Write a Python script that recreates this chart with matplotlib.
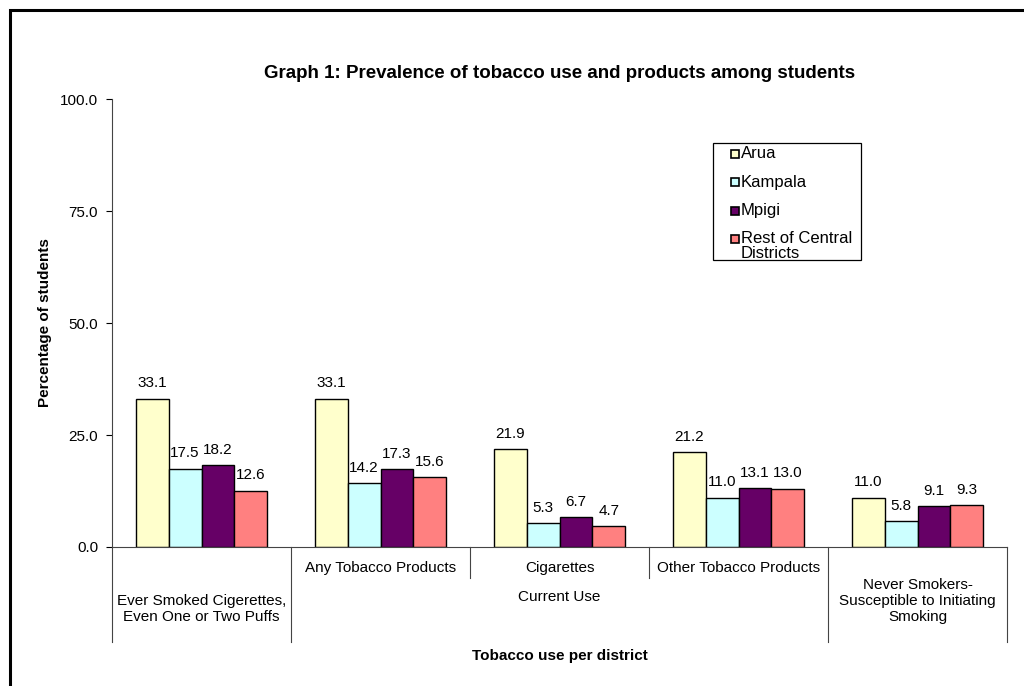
import numpy as np
import matplotlib
matplotlib.use("Agg")
import matplotlib.pyplot as plt
from matplotlib.patches import Rectangle
from matplotlib.transforms import blended_transform_factory

plt.rcParams["font.family"] = ["Liberation Sans", "DejaVu Sans"]

# survey data
districts = ["Arua", "Kampala", "Mpigi", "Rest of Central\nDistricts"]
arua = [33.1, 33.1, 21.9, 21.2, 11.0]
kampala = [17.5, 14.2, 5.3, 11.0, 5.8]
mpigi = [18.2, 17.3, 6.7, 13.1, 9.1]
rest_central = [12.6, 15.6, 4.7, 13.0, 9.3]
colors = ["#FFFFCC", "#CCFFFF", "#660066", "#FF8080"]

W, H = 1024, 686
fs = 11
fig = plt.figure(figsize=(W / 100, H / 100), dpi=100)

# outer frame (only top and left edges fall inside the image)
fig.patches.append(Rectangle((10 / W, -0.1), 1.2, 1 - 10 / H + 0.1, transform=fig.transFigure,
                             fill=False, edgecolor="black", linewidth=2.2))

ax = fig.add_axes([112 / W, 1 - 547 / H, (1007 - 112) / W, (547 - 99) / H])

x = np.arange(5) + 0.5
bw = 0.183
series = [arua, kampala, mpigi, rest_central]
for k, vals in enumerate(series):
    bars = ax.bar(x + (k - 1.5) * bw, vals, bw, color=colors[k], edgecolor="black", linewidth=1)
    ax.bar_label(bars, fmt="%.1f", padding=6, fontsize=fs)

ax.set_xlim(0, 5)
ax.set_ylim(0, 100)
ax.set_yticks([0, 25, 50, 75, 100])
ax.set_yticklabels(["%.1f" % v for v in [0, 25, 50, 75, 100]], fontsize=11)
ax.tick_params(axis="y", direction="out", length=4, width=0.8, pad=6)
ax.set_xticks([])
for s in ["top", "right"]:
    ax.spines[s].set_visible(False)
for s in ["left", "bottom"]:
    ax.spines[s].set_linewidth(0.8)
    ax.spines[s].set_color("#444444")

# two-level category axis
tr = blended_transform_factory(ax.transData, ax.transAxes)
for xb, depth in [(0, -0.212), (1, -0.212), (2, -0.069), (3, -0.069), (4, -0.212), (5, -0.212)]:
    ax.plot([xb, xb], [0, depth], color="#444444", lw=0.8, transform=tr, clip_on=False)

ax.text(0.5, -0.138, "Ever Smoked Cigerettes,\nEven One or Two Puffs", transform=tr,
        ha="center", va="center", fontsize=fs, linespacing=1.2)
ax.text(1.5, -0.047, "Any Tobacco Products", transform=tr, ha="center", va="center", fontsize=fs)
ax.text(2.5, -0.047, "Cigarettes", transform=tr, ha="center", va="center", fontsize=fs)
ax.text(3.5, -0.047, "Other Tobacco Products", transform=tr, ha="center", va="center", fontsize=fs)
ax.text(2.5, -0.112, "Current Use", transform=tr, ha="center", va="center", fontsize=fs)
ax.text(4.5, -0.121, "Never Smokers-\nSusceptible to Initiating\nSmoking", transform=tr,
        ha="center", va="center", fontsize=fs, linespacing=1.2)

fig.text(560 / W, 1 - 73 / H, "Graph 1: Prevalence of tobacco use and products among students",
         ha="center", va="center", fontsize=13.5, fontweight="bold")
fig.text(560 / W, 1 - 656 / H, "Tobacco use per district", ha="center", va="center",
         fontsize=11, fontweight="bold")
fig.text(45 / W, 1 - 323 / H, "Percentage of students", ha="center", va="center",
         rotation=90, fontsize=11, fontweight="bold")

# legend box
bx0, by0, bx1, by1 = 713, 143, 861, 260
box = Rectangle((bx0 / W, 1 - by1 / H), (bx1 - bx0) / W, (by1 - by0) / H,
                transform=fig.transFigure, facecolor="white", edgecolor="black", linewidth=0.9)
fig.patches.append(box)
for k, (name, ypix) in enumerate(zip(districts, [154, 182, 211, 239])):
    fig.patches.append(Rectangle((731 / W, 1 - (ypix + 4) / H), 8 / W, 8 / H, transform=fig.transFigure,
                                 facecolor=colors[k], edgecolor="black", linewidth=1.2))
    t = fig.text(741 / W, 1 - ypix / H, name, ha="left", va="top" if "\n" in name else "center",
                 fontsize=12, linespacing=1.0)
    if "\n" in name:
        t.set_y(1 - (ypix - 8) / H)
        t.set_clip_path(box)

fig.savefig("out.png", dpi=100)
